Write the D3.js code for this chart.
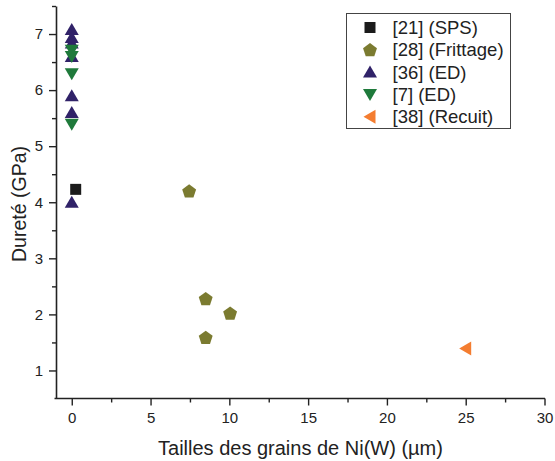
<!DOCTYPE html>
<html><head><meta charset="utf-8">
<script src="https://cdn.jsdelivr.net/npm/d3@7"></script>
<style>body{margin:0;background:#fff;} svg{display:block;font-family:"Liberation Sans",Arial,sans-serif;}</style>
</head><body>
<svg id="c" width="555" height="461"></svg>
<script>
// Data
const seriesNames = ["[21] (SPS)", "[28] (Frittage)", "[36] (ED)", "[7] (ED)", "[38] (Recuit)"];
const sps21X = [0.25];
const sps21Y = [4.23];
const frit28X = [7.45, 8.5, 10.05, 8.5];
const frit28Y = [4.2, 2.28, 2.02, 1.59];
const ed36X = [0, 0, 0, 0, 0, 0, 0];
const ed36Y = [7.08, 6.94, 6.84, 6.6, 5.9, 5.6, 4.0];
const ed7X = [0, 0, 0, 0];
const ed7Y = [6.71, 6.6, 6.29, 5.39];
const rec38X = [25];
const rec38Y = [1.39];
const xTicks = [0, 5, 10, 15, 20, 25, 30];
const yTicks = [1, 2, 3, 4, 5, 6, 7];
const colors = ["#1b1b1b", "#7b7b30", "#302268", "#1f7a3b", "#f47d30"];
const shapes = ["square", "pentagon", "up", "down", "left"];

const svg = d3.select("#c");
const x = d3.scaleLinear().domain([-1, 30]).range([56, 544.5]);
const y = d3.scaleLinear().domain([0.5, 7.5]).range([398.5, 6]);

function shapePath(s) {
  if (s === "square") return "M-5.5,-5.5h11v11h-11z";
  if (s === "up") return "M0,-6.5L7,5.5L-7,5.5Z";
  if (s === "down") return "M0,6.5L7,-5.5L-7,-5.5Z";
  if (s === "left") return "M-6.5,0L5.5,-7L5.5,7Z";
  if (s === "pentagon") {
    const r = 7.3, pts = [];
    for (let i = 0; i < 5; i++) {
      const a = -Math.PI / 2 + i * 2 * Math.PI / 5;
      pts.push([r * Math.cos(a), r * Math.sin(a) + 0.6]);
    }
    return "M" + pts.map(p => p.join(",")).join("L") + "Z";
  }
}

// Axes
const axisColor = "#222";
const gx = svg.append("g").attr("transform", "translate(0,398.5)");
gx.call(d3.axisBottom(x).tickValues(xTicks).tickFormat(d3.format("d")).tickSize(7).tickPadding(7).tickSizeOuter(0));
const gxm = svg.append("g").attr("transform", "translate(0,398.5)")
  .call(d3.axisBottom(x).tickValues(d3.range(2.5, 30, 5)).tickSize(4).tickFormat("").tickSizeOuter(0));
gxm.select(".domain").remove();
const gy = svg.append("g").attr("transform", "translate(56,0)");
gy.call(d3.axisLeft(y).tickValues(yTicks).tickFormat(d3.format("d")).tickSize(7).tickPadding(6).tickSizeOuter(0));
const gym = svg.append("g").attr("transform", "translate(56,0)")
  .call(d3.axisLeft(y).tickValues(d3.range(1.5, 7.6, 1)).tickSize(4).tickFormat("").tickSizeOuter(0));
gym.select(".domain").remove();
svg.selectAll(".domain").attr("stroke", axisColor).attr("stroke-width", 1.6);
svg.selectAll(".tick line").attr("stroke", axisColor).attr("stroke-width", 1.4);
svg.selectAll(".tick text").attr("font-size", 15).attr("fill", "#222").attr("font-family", "Liberation Sans, Arial, sans-serif");
gx.select(".domain").attr("d", "M54.5,0H545");

// Axis titles
svg.append("text").attr("x", 300.5).attr("y", 455).attr("text-anchor", "middle")
  .attr("font-size", 20).attr("fill", "#222").text("Tailles des grains de Ni(W) (µm)");
svg.append("text").attr("transform", "translate(26,204) rotate(-90)").attr("text-anchor", "middle")
  .attr("font-size", 19.5).attr("fill", "#222").text("Dureté (GPa)");

// Points
const allX = [sps21X, frit28X, ed36X, ed7X, rec38X];
const allY = [sps21Y, frit28Y, ed36Y, ed7Y, rec38Y];
allX.forEach((xs, si) => {
  svg.append("g").selectAll("path").data(xs.map((v, i) => [v, allY[si][i]])).join("path")
    .attr("d", shapePath(shapes[si]))
    .attr("transform", d => `translate(${x(d[0])},${y(d[1])})`)
    .attr("fill", colors[si]);
});

// Legend
const lg = svg.append("g");
lg.append("rect").attr("x", 346.5).attr("y", 13.5).attr("width", 164).attr("height", 115)
  .attr("fill", "#fff").attr("stroke", "#444").attr("stroke-width", 1);
seriesNames.forEach((n, i) => {
  const yy = 27.5 + i * 22.3;
  lg.append("path").attr("d", shapePath(shapes[i])).attr("transform", `translate(370,${yy})`).attr("fill", colors[i]);
  lg.append("text").attr("x", 392.5).attr("y", yy + 6.5).attr("font-size", 18.5).attr("fill", "#222").text(n);
});
</script>
</body></html>
